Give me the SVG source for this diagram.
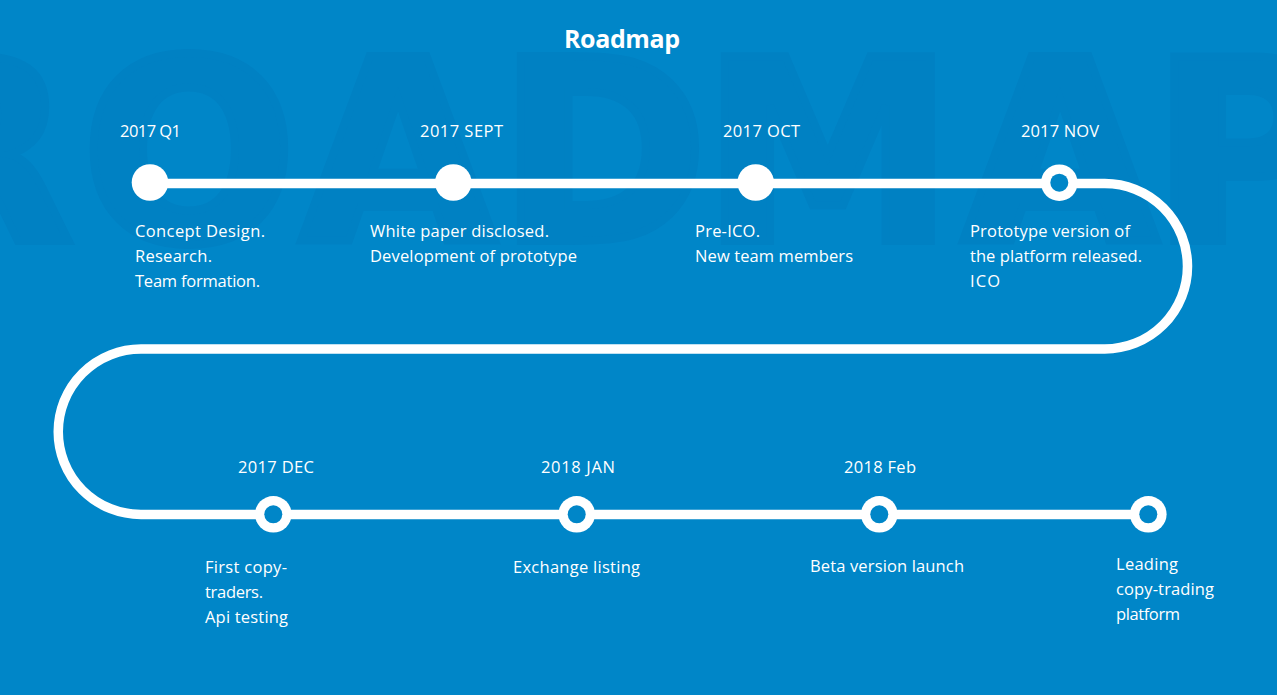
<svg xmlns="http://www.w3.org/2000/svg" width="1277" height="695" viewBox="0 0 1277 695">
  <style>
    .wm { font-family: "DejaVu Sans", sans-serif; font-weight: bold; font-size: 254px; fill: #0081c3; stroke: #0081c3; stroke-width: 8; stroke-linejoin: miter; text-anchor: middle; }
    .title { font-family: "Open Sans", "Liberation Sans", sans-serif; font-weight: bold; font-size: 25px; fill: #ffffff; }
    .date { font-family: "Open Sans", "Liberation Sans", sans-serif; font-size: 16.5px; fill: #ffffff; }
    .desc { font-family: "Open Sans", "Liberation Sans", sans-serif; font-size: 16.5px; fill: #ffffff; }
    .track { fill: none; stroke: #ffffff; stroke-width: 9.5; }
    .dot { fill: #ffffff; }
    .hole { fill: #0086c8; }
  </style>
  <rect x="0" y="0" width="1277" height="695" fill="#0086c8"/>
  <g id="watermark">
    <text class="wm" x="-24" y="241">R</text>
    <text class="wm" x="189" y="241">O</text>
    <text class="wm" x="398" y="241">A</text>
    <text class="wm" x="603" y="241">D</text>
    <text class="wm" x="828" y="241">M</text>
    <text class="wm" x="1060" y="241">A</text>
    <text class="wm" x="1244" y="241">P</text>
  </g>
  <text id="title" class="title" x="564" y="48" textLength="116">Roadmap</text>
  <g id="connectors">
    <path class="track" d="M150,183.5 H1104.75 A82.75,82.75 0 0 1 1104.75,349 H141 A82.75,82.75 0 0 0 141,514.5 H1148"/>
  </g>
  <g id="node-2017-q1">
    <circle class="dot" cx="150" cy="182.5" r="18.3"/>
    <text class="date" x="120" y="137" textLength="61">2017 Q1</text>
    <text class="desc" x="135" y="237" textLength="130">Concept Design.</text>
    <text class="desc" x="135" y="262" textLength="77">Research.</text>
    <text class="desc" x="135" y="287" textLength="125">Team formation.</text>
  </g>
  <g id="node-2017-sept">
    <circle class="dot" cx="453.3" cy="182.5" r="18.3"/>
    <text class="date" x="420" y="137" textLength="83">2017 SEPT</text>
    <text class="desc" x="370" y="237" textLength="179">White paper disclosed.</text>
    <text class="desc" x="370" y="262" textLength="207">Development of prototype</text>
  </g>
  <g id="node-2017-oct">
    <circle class="dot" cx="755.7" cy="182.5" r="18.3"/>
    <text class="date" x="723" y="137" textLength="77">2017 OCT</text>
    <text class="desc" x="695" y="237" textLength="65">Pre-ICO.</text>
    <text class="desc" x="695" y="262" textLength="158">New team members</text>
  </g>
  <g id="node-2017-nov">
    <circle class="dot" cx="1059.3" cy="182.7" r="18.3"/>
    <circle class="hole" cx="1059.3" cy="182.7" r="9"/>
    <text class="date" x="1021" y="137" textLength="78">2017 NOV</text>
    <text class="desc" x="970" y="237" textLength="160">Prototype version of</text>
    <text class="desc" x="970" y="262" textLength="172">the platform released.</text>
    <text class="desc" x="970" y="287" textLength="30">ICO</text>
  </g>
  <g id="node-2017-dec">
    <circle class="dot" cx="273.3" cy="514.3" r="18.3"/>
    <circle class="hole" cx="273.3" cy="514.3" r="9"/>
    <text class="date" x="238" y="472.5" textLength="76">2017 DEC</text>
    <text class="desc" x="205" y="572.5" textLength="82">First copy-</text>
    <text class="desc" x="205" y="597.5" textLength="58">traders.</text>
    <text class="desc" x="205" y="622.5" textLength="83">Api testing</text>
  </g>
  <g id="node-2018-jan">
    <circle class="dot" cx="576.7" cy="514.3" r="18.3"/>
    <circle class="hole" cx="576.7" cy="514.3" r="9"/>
    <text class="date" x="541" y="472.5" textLength="74">2018 JAN</text>
    <text class="desc" x="513" y="572.5" textLength="127">Exchange listing</text>
  </g>
  <g id="node-2018-feb">
    <circle class="dot" cx="879.3" cy="514.3" r="18.3"/>
    <circle class="hole" cx="879.3" cy="514.3" r="9"/>
    <text class="date" x="844" y="472.5" textLength="72">2018 Feb</text>
    <text class="desc" x="810" y="572" textLength="154">Beta version launch</text>
  </g>
  <g id="node-leading">
    <circle class="dot" cx="1148.3" cy="514.3" r="18.3"/>
    <circle class="hole" cx="1148.3" cy="514.3" r="9"/>
    <text class="desc" x="1116" y="570" textLength="62">Leading</text>
    <text class="desc" x="1116" y="594.5" textLength="98">copy-trading</text>
    <text class="desc" x="1116" y="619.5" textLength="64">platform</text>
  </g>
</svg>
